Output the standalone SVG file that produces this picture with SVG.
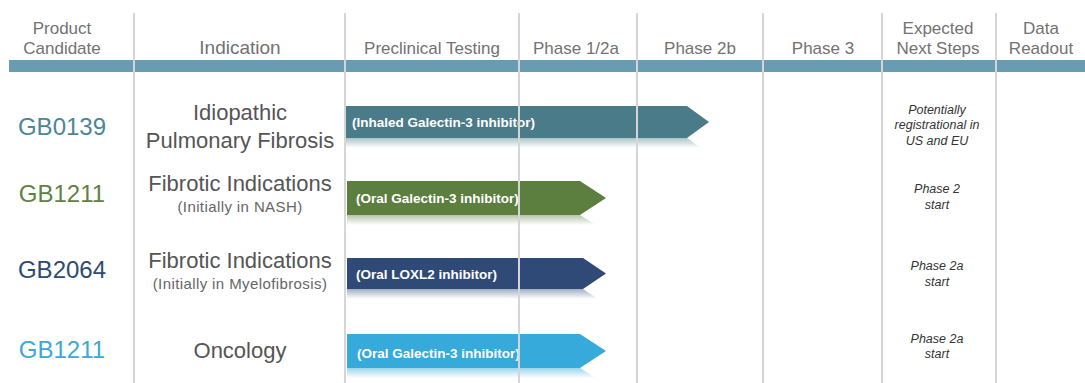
<svg xmlns="http://www.w3.org/2000/svg" width="1085" height="383" viewBox="0 0 1085 383">
<defs>
<linearGradient id="rf1" x1="0" y1="0" x2="0" y2="1"><stop offset="0" stop-color="#4a7b88" stop-opacity="0.45"/><stop offset="1" stop-color="#4a7b88" stop-opacity="0"/></linearGradient>
<linearGradient id="rf2" x1="0" y1="0" x2="0" y2="1"><stop offset="0" stop-color="#5c7e3f" stop-opacity="0.45"/><stop offset="1" stop-color="#5c7e3f" stop-opacity="0"/></linearGradient>
<linearGradient id="rf3" x1="0" y1="0" x2="0" y2="1"><stop offset="0" stop-color="#2f4a76" stop-opacity="0.45"/><stop offset="1" stop-color="#2f4a76" stop-opacity="0"/></linearGradient>
<linearGradient id="rf4" x1="0" y1="0" x2="0" y2="1"><stop offset="0" stop-color="#35aadb" stop-opacity="0.5"/><stop offset="1" stop-color="#35aadb" stop-opacity="0"/></linearGradient>
</defs>
<style>
text{font-family:"Liberation Sans",Arial,Helvetica,sans-serif}
.hd{font-size:17px;fill:#727272;text-anchor:middle}
.hi{font-size:19px;fill:#727272;text-anchor:middle}
.gb{font-size:24px;text-anchor:middle}
.ind{font-size:22px;fill:#555;text-anchor:middle}
.sub{font-size:15px;fill:#666;text-anchor:middle;letter-spacing:0.4px}
.lbl{font-size:13.5px;font-weight:bold;fill:#fff}
.nx{font-size:12.5px;font-style:italic;fill:#333;text-anchor:middle}
.grid line{stroke:#d5d5d5;stroke-width:2}
</style>
<rect width="1085" height="383" fill="#fff"/>
<g id="header">
<rect x="9" y="60" width="1076" height="12" fill="#689cb1"/>
<text class="hd" x="62" y="34">Product</text>
<text class="hd" x="62" y="54">Candidate</text>
<text class="hi" x="240" y="54">Indication</text>
<text class="hd" x="432" y="54">Preclinical Testing</text>
<text class="hd" x="576" y="54">Phase 1/2a</text>
<text class="hd" x="700" y="54">Phase 2b</text>
<text class="hd" x="823" y="54">Phase 3</text>
<text class="hd" x="938" y="34">Expected</text>
<text class="hd" x="938" y="54">Next Steps</text>
<text class="hd" x="1041" y="34">Data</text>
<text class="hd" x="1041" y="54">Readout</text>
</g>
<g id="row-gb0139">
<text class="gb" x="62" y="135" fill="#4b8795">GB0139</text>
<text class="ind" x="240" y="120">Idiopathic</text>
<text class="ind" x="240" y="148">Pulmonary Fibrosis</text>
<polygon points="346,138 687,138 701,148 346,148" fill="url(#rf1)"/>
<polygon points="346,106 687,106 709,122 687,138 346,138" fill="#4a7b88"/>
<text class="lbl" x="352" y="127">(Inhaled Galectin-3 inhibitor)</text>
<text class="nx" x="937" y="114">Potentially</text>
<text class="nx" x="937" y="129">registrational in</text>
<text class="nx" x="937" y="145">US and EU</text>
</g>
<g id="row-gb1211-fibrotic">
<text class="gb" x="62" y="202" fill="#5f8143">GB1211</text>
<text class="ind" x="240" y="191">Fibrotic Indications</text>
<text class="sub" x="240" y="212">(Initially in NASH)</text>
<polygon points="347,215 580,215 596,225 347,225" fill="url(#rf2)"/>
<polygon points="347,181 580,181 606,198 580,215 347,215" fill="#5c7e3f"/>
<text class="lbl" x="356" y="203">(Oral Galectin-3 inhibitor)</text>
<text class="nx" x="937" y="193">Phase 2</text>
<text class="nx" x="937" y="209">start</text>
</g>
<g id="row-gb2064">
<text class="gb" x="62" y="278" fill="#2f4a72">GB2064</text>
<text class="ind" x="240" y="268">Fibrotic Indications</text>
<text class="sub" x="240" y="289">(Initially in Myelofibrosis)</text>
<polygon points="347,289 583,289 598,299 347,299" fill="url(#rf3)"/>
<polygon points="347,258 583,258 606,273.5 583,289 347,289" fill="#2f4a76"/>
<text class="lbl" x="356" y="279">(Oral LOXL2 inhibitor)</text>
<text class="nx" x="937" y="270">Phase 2a</text>
<text class="nx" x="937" y="286">start</text>
</g>
<g id="row-gb1211-oncology">
<text class="gb" x="62" y="358" fill="#3aa8d8">GB1211</text>
<text class="ind" x="240" y="358">Oncology</text>
<polygon points="347,368 580,368 596,378 347,378" fill="url(#rf4)"/>
<polygon points="347,334 580,334 606,351 580,368 347,368" fill="#35aadb"/>
<text class="lbl" x="357" y="358">(Oral Galectin-3 inhibitor)</text>
<text class="nx" x="937" y="343">Phase 2a</text>
<text class="nx" x="937" y="358">start</text>
</g>
<g class="grid" id="grid">
<line x1="134" y1="13" x2="134" y2="383"/>
<line x1="345" y1="13" x2="345" y2="383"/>
<line x1="519" y1="13" x2="519" y2="383"/>
<line x1="637" y1="13" x2="637" y2="383"/>
<line x1="763" y1="13" x2="763" y2="383"/>
<line x1="882" y1="13" x2="882" y2="383"/>
<line x1="996" y1="13" x2="996" y2="383"/>
</g>
</svg>
